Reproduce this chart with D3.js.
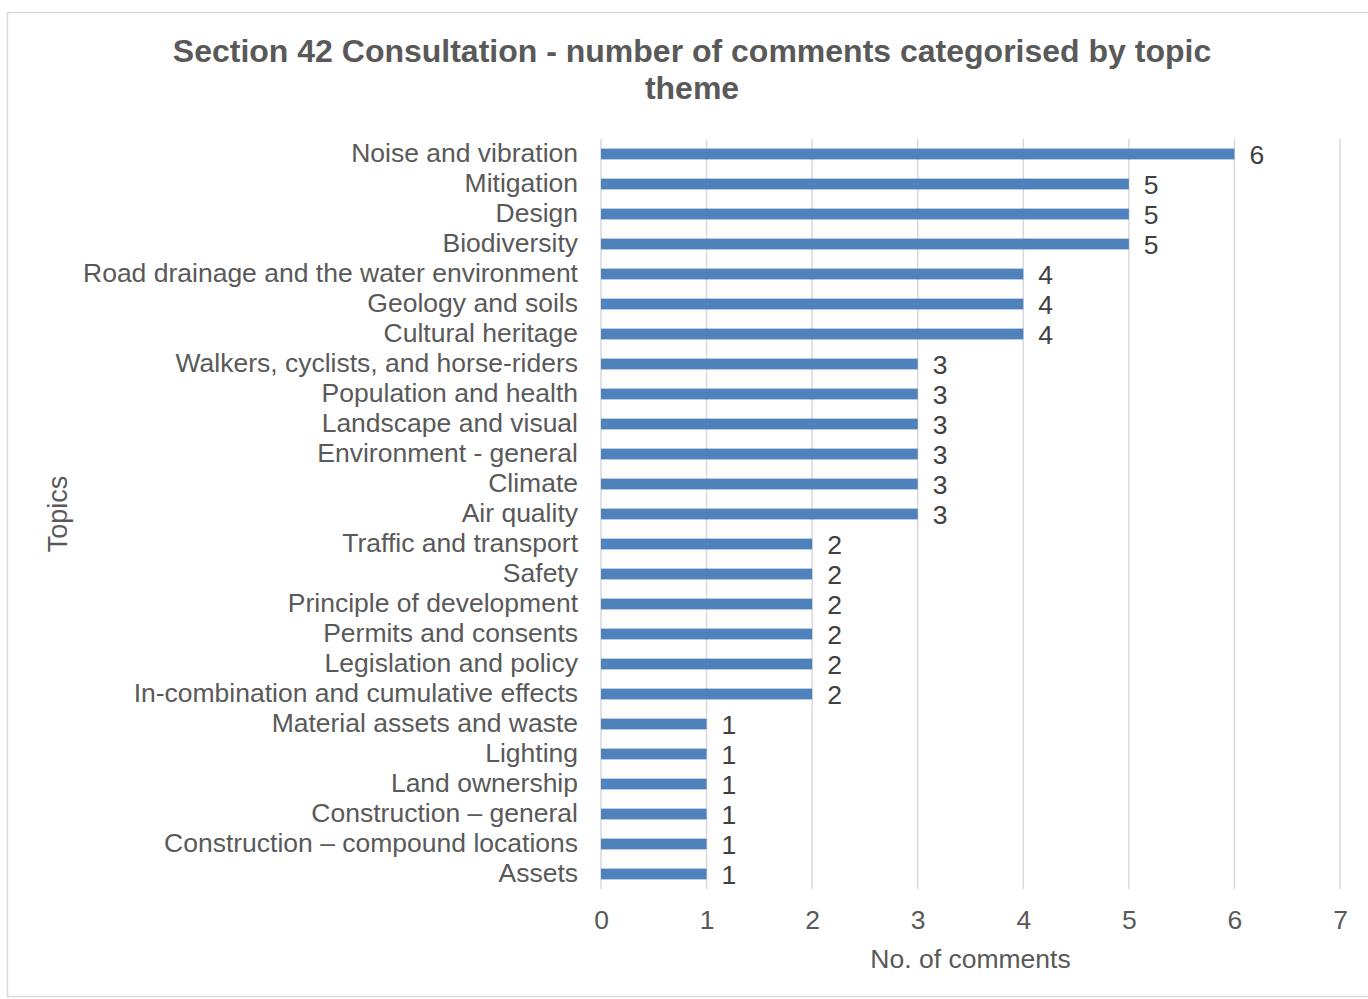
<!DOCTYPE html>
<html>
<head>
<meta charset="utf-8">
<script src="https://cdn.jsdelivr.net/npm/d3@7/dist/d3.min.js"></script>
<style>
  html, body { margin: 0; padding: 0; background: #ffffff; }
  svg { display: block; }
</style>
</head>
<body>
<svg id="chart" width="1368" height="999"></svg>
<script>
// Topic themes, top to bottom as listed in the chart
const topics = [
  "Noise and vibration",
  "Mitigation",
  "Design",
  "Biodiversity",
  "Road drainage and the water environment",
  "Geology and soils",
  "Cultural heritage",
  "Walkers, cyclists, and horse-riders",
  "Population and health",
  "Landscape and visual",
  "Environment - general",
  "Climate",
  "Air quality",
  "Traffic and transport",
  "Safety",
  "Principle of development",
  "Permits and consents",
  "Legislation and policy",
  "In-combination and cumulative effects",
  "Material assets and waste",
  "Lighting",
  "Land ownership",
  "Construction \u2013 general",
  "Construction \u2013 compound locations",
  "Assets"
];
const comments = [6, 5, 5, 5, 4, 4, 4, 3, 3, 3, 3, 3, 3, 2, 2, 2, 2, 2, 2, 1, 1, 1, 1, 1, 1];
const xTicks = [0, 1, 2, 3, 4, 5, 6, 7];

const titleLines = ["Section 42 Consultation - number of comments categorised by topic", "theme"];
const xTitle = "No. of comments";
const yTitle = "Topics";

const data = topics.map((t, i) => ({ topic: t, value: comments[i] }));

const svg = d3.select("#chart");
const textColor = "#595959";
const font = "'Liberation Sans', Arial, sans-serif";
const fs = 26.5;

// Chart frame
svg.append("rect")
  .attr("x", 7.5).attr("y", 12.5)
  .attr("width", 1380).attr("height", 984)
  .attr("fill", "#ffffff")
  .attr("stroke", "#D9D9D9")
  .attr("stroke-width", 1.5);

const plot = { left: 601, right: 1340, top: 139, bottom: 889 };

const x = d3.scaleLinear().domain([0, 7]).range([plot.left, plot.right]);
const y = d3.scaleBand().domain(topics).range([plot.top, plot.bottom]).paddingInner(0.64).paddingOuter(0.32);

// Vertical gridlines
svg.append("g")
  .selectAll("line")
  .data(xTicks)
  .join("line")
  .attr("x1", d => x(d)).attr("x2", d => x(d))
  .attr("y1", plot.top).attr("y2", plot.bottom)
  .attr("stroke", "#D9D9D9")
  .attr("stroke-width", 1.5);

// Bars
svg.append("g")
  .selectAll("rect")
  .data(data)
  .join("rect")
  .attr("x", x(0))
  .attr("y", d => y(d.topic))
  .attr("width", d => x(d.value) - x(0))
  .attr("height", y.bandwidth())
  .attr("fill", "#4F81BD");

// Value labels
svg.append("g")
  .selectAll("text")
  .data(data)
  .join("text")
  .attr("x", d => x(d.value) + 15)
  .attr("y", d => y(d.topic) + y.bandwidth() / 2 + 10)
  .attr("font-family", font)
  .attr("font-size", fs)
  .attr("fill", "#404040")
  .text(d => d.value);

// Category axis
const yAxis = d3.axisLeft(y).tickSize(0).tickPadding(0);
const yg = svg.append("g").attr("transform", `translate(${plot.left - 23},0)`).call(yAxis);
yg.select(".domain").remove();
yg.selectAll("text")
  .attr("font-family", font)
  .attr("font-size", fs)
  .attr("fill", textColor)
  .attr("dy", "0.3em");

// Value axis
const xAxis = d3.axisBottom(x).tickValues(xTicks).tickSize(0).tickPadding(0).tickFormat(d3.format("d"));
const xg = svg.append("g").attr("transform", `translate(0,${plot.bottom + 21})`).call(xAxis);
xg.select(".domain").remove();
xg.selectAll("text")
  .attr("font-family", font)
  .attr("font-size", fs)
  .attr("fill", textColor)
  .attr("dy", "0.71em");

// Axis titles
svg.append("text")
  .attr("x", (plot.left + plot.right) / 2)
  .attr("y", 968)
  .attr("text-anchor", "middle")
  .attr("font-family", font)
  .attr("font-size", fs)
  .attr("fill", textColor)
  .text(xTitle);

svg.append("text")
  .attr("transform", `translate(67,${(plot.top + plot.bottom) / 2}) rotate(-90)`)
  .attr("text-anchor", "middle")
  .attr("font-family", font)
  .attr("font-size", 27)
  .attr("fill", textColor)
  .text(yTitle);

// Title
svg.append("g")
  .selectAll("text")
  .data(titleLines)
  .join("text")
  .attr("x", 692)
  .attr("y", (d, i) => 62 + i * 37)
  .attr("text-anchor", "middle")
  .attr("font-family", font)
  .attr("font-weight", "bold")
  .attr("font-size", 32)
  .attr("fill", textColor)
  .text(d => d);
</script>
</body>
</html>
